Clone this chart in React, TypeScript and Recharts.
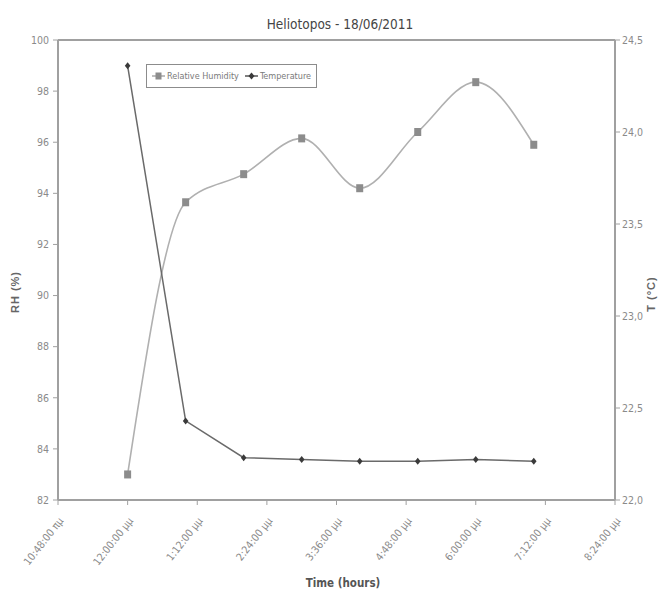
import React from 'react';
import { LineChart, Line, XAxis, YAxis, Legend, ReferenceLine } from 'recharts';

const timeMinutes = [720, 780, 840, 900, 960, 1020, 1080, 1140];
const rhValues = [83.0, 93.65, 94.75, 96.15, 94.2, 96.4, 98.35, 95.9];
const tempValues = [24.36, 22.43, 22.23, 22.22, 22.21, 22.21, 22.22, 22.21];

const xTickValues = [648, 720, 792, 864, 936, 1008, 1080, 1152, 1224];
const xTickLabels = [
  '10:48:00 πμ',
  '12:00:00 μμ',
  '1:12:00 μμ',
  '2:24:00 μμ',
  '3:36:00 μμ',
  '4:48:00 μμ',
  '6:00:00 μμ',
  '7:12:00 μμ',
  '8:24:00 μμ',
];
const rhTicks = [82, 84, 86, 88, 90, 92, 94, 96, 98, 100];
const tempTicks = [22, 22.5, 23, 23.5, 24, 24.5];

const data = timeMinutes.map((t, i) => ({ t, rh: rhValues[i], temp: tempValues[i] }));

const FONT = "'Liberation Sans Narrow', 'DejaVu Sans Condensed', 'Liberation Sans', sans-serif";
const AXIS = '#a0a0a0';
const TICK_TEXT = '#8a8a8a';

const XTick = (props: any) => {
  const { x, y, payload } = props;
  const idx = xTickValues.indexOf(payload.value);
  const label = idx >= 0 ? xTickLabels[idx] : '';
  const ax = x + 6;
  const ay = y + 14;
  return (
    <text
      x={ax}
      y={ay}
      transform={`rotate(-52, ${ax}, ${ay})`}
      textAnchor="end"
      fontSize={10.5}
      fontFamily={FONT}
      fill={TICK_TEXT}
    >
      {label}
    </text>
  );
};

const SquareDot = (props: any) => {
  const { cx, cy, index } = props;
  if (cx == null || cy == null) return <g key={`s-${index}`} />;
  return <rect key={`s-${index}`} x={cx - 3.5} y={cy - 4} width={7} height={8} fill="#8c8c8c" />;
};

const DiamondDot = (props: any) => {
  const { cx, cy, index } = props;
  if (cx == null || cy == null) return <g key={`d-${index}`} />;
  const r = 3.5;
  return (
    <polygon
      key={`d-${index}`}
      points={`${cx},${cy - r} ${cx + r * 0.8},${cy} ${cx},${cy + r} ${cx - r * 0.8},${cy}`}
      fill="#3a3a3a"
    />
  );
};

const LegendContent = () => (
  <div
    style={{
      border: '1px solid #8c8c8c',
      background: '#fff',
      height: 24,
      boxSizing: 'border-box',
      display: 'inline-flex',
      alignItems: 'center',
      padding: '0 5px',
      fontFamily: FONT,
      fontSize: 9,
      color: '#7a7a7a',
      whiteSpace: 'nowrap',
    }}
  >
    <svg width={13} height={10} style={{ marginRight: 2, flexShrink: 0, display: 'block' }}>
      <line x1={0} y1={5} x2={13} y2={5} stroke="#a8a8a8" strokeWidth={1.5} />
      <rect x={3.5} y={1.5} width={6} height={7} fill="#8c8c8c" />
    </svg>
    <span style={{ marginRight: 6, flexShrink: 0 }}>Relative Humidity</span>
    <svg width={13} height={10} style={{ marginRight: 2, flexShrink: 0, display: 'block' }}>
      <line x1={0} y1={5} x2={13} y2={5} stroke="#555" strokeWidth={1.5} />
      <polygon points="6.5,1.5 9.5,5 6.5,8.5 3.5,5" fill="#3a3a3a" />
    </svg>
    <span style={{ flexShrink: 0 }}>Temperature</span>
  </div>
);

export default function App() {
  return (
    <div style={{ position: 'absolute', left: 0, top: 0, background: '#fff' }}>
      <LineChart
        width={659}
        height={593}
        data={data}
        margin={{ top: 40, right: 0, bottom: 0, left: 0 }}
      >
        <text
          x={340}
          y={29}
          textAnchor="middle"
          fontSize={13.5}
          fontFamily={FONT}
          fill="#454545"
        >
          Heliotopos - 18/06/2011
        </text>
        <text
          x={0}
          y={0}
          transform="translate(19, 292) rotate(-90)"
          textAnchor="middle"
          fontSize={11}
          fontWeight="bold"
          fontFamily="'Liberation Sans', sans-serif"
          fill="#666"
          letterSpacing={1}
        >
          RH (%)
        </text>
        <text
          x={0}
          y={0}
          transform="translate(655, 294) rotate(-90)"
          textAnchor="middle"
          fontSize={11}
          fontWeight="bold"
          fontFamily="'Liberation Sans', sans-serif"
          fill="#666"
          letterSpacing={1}
        >
          T (°C)
        </text>
        <text
          x={343}
          y={587}
          textAnchor="middle"
          fontSize={11.5}
          fontWeight="bold"
          fontFamily={FONT}
          fill="#555"
        >
          Time (hours)
        </text>
        <XAxis
          dataKey="t"
          type="number"
          domain={[648, 1224]}
          ticks={xTickValues}
          interval={0}
          height={93}
          axisLine={{ stroke: AXIS, strokeWidth: 2 }}
          tickLine={{ stroke: AXIS }}
          tickSize={5}
          tick={<XTick />}
        />
        <YAxis
          yAxisId="left"
          orientation="left"
          domain={[82, 100]}
          ticks={rhTicks}
          interval={0}
          width={58}
          axisLine={{ stroke: AXIS, strokeWidth: 2 }}
          tickLine={{ stroke: AXIS }}
          tickSize={5}
          tickMargin={4}
          tick={{ fontSize: 10.5, fontFamily: FONT, fill: TICK_TEXT }}
        />
        <YAxis
          yAxisId="right"
          orientation="right"
          domain={[22, 24.5]}
          ticks={tempTicks}
          interval={0}
          width={44}
          axisLine={{ stroke: AXIS, strokeWidth: 2 }}
          tickLine={{ stroke: AXIS }}
          tickSize={5}
          tickMargin={2}
          tickFormatter={(v: number) => v.toFixed(1).replace('.', ',')}
          tick={{ fontSize: 10.5, fontFamily: FONT, fill: TICK_TEXT }}
        />
        <ReferenceLine yAxisId="left" y={100} stroke={AXIS} strokeWidth={2} ifOverflow="visible" />
        <Legend
          layout="horizontal"
          verticalAlign="middle"
          align="center"
          content={<LegendContent />}
          wrapperStyle={{ position: 'absolute', left: 146, top: 64, width: 'auto', height: 'auto' }}
        />
        <Line
          yAxisId="left"
          type="monotone"
          dataKey="rh"
          name="Relative Humidity"
          stroke="#b0b0b0"
          strokeWidth={1.6}
          dot={SquareDot}
          activeDot={false}
          isAnimationActive={false}
        />
        <Line
          yAxisId="right"
          type="linear"
          dataKey="temp"
          name="Temperature"
          stroke="#6a6a6a"
          strokeWidth={1.5}
          dot={DiamondDot}
          activeDot={false}
          isAnimationActive={false}
        />
      </LineChart>
    </div>
  );
}
